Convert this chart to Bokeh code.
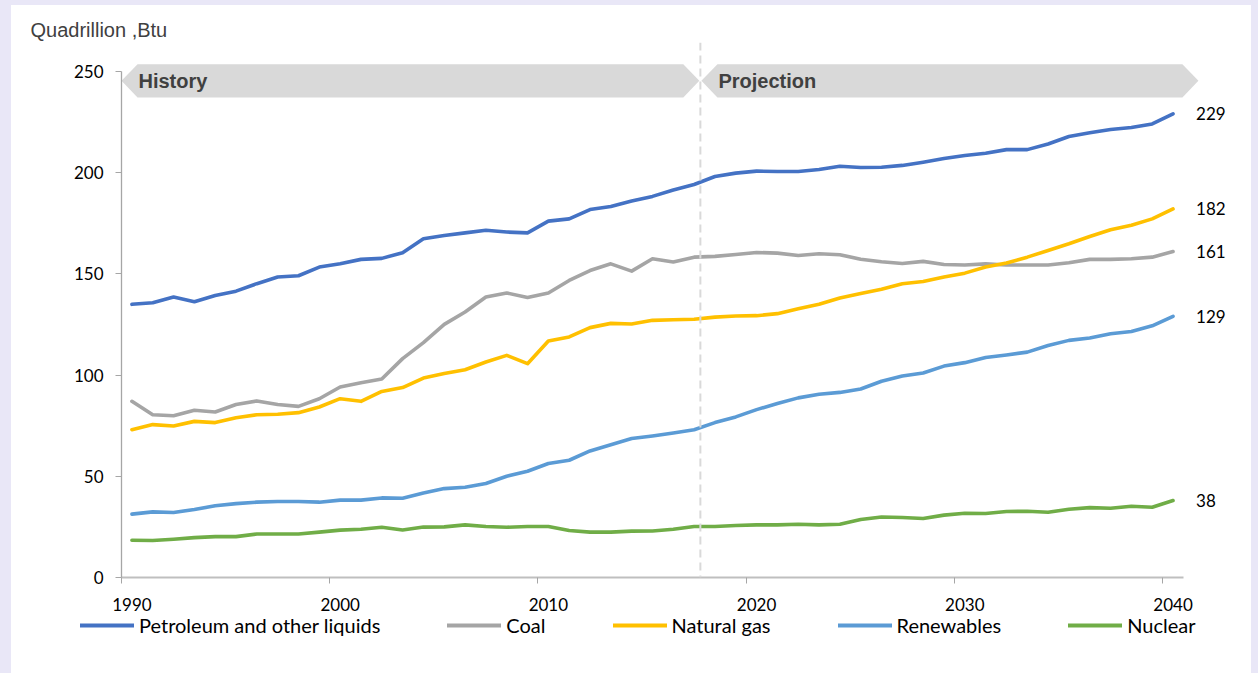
from bokeh.plotting import figure
from bokeh.models import Range1d, FixedTicker, Span, Legend, LegendItem
from bokeh.layouts import column
from bokeh.embed import file_html
from bokeh.resources import INLINE
from bokeh.core.properties import value

# ---------------- data ----------------
years = list(range(1990, 2041))
petroleum = [134.9, 135.7, 138.5, 136.2, 139.3, 141.4, 145.1, 148.4, 149.0, 153.3,
             154.9, 157.1, 157.6, 160.4, 167.3, 168.9, 170.2, 171.5, 170.6, 170.2,
             176.0, 177.1, 181.7, 183.2, 185.9, 188.2, 191.4, 194.1, 198.0, 199.7,
             200.7, 200.5, 200.5, 201.5, 203.1, 202.5, 202.6, 203.5, 205.1, 206.9,
             208.4, 209.5, 211.3, 211.3, 214.1, 217.8, 219.6, 221.2, 222.2, 224.0, 229.0]
coal = [87.0, 80.4, 79.9, 82.6, 81.7, 85.4, 87.2, 85.4, 84.5, 88.3,
        94.1, 96.2, 98.0, 108.1, 116.0, 125.0, 131.1, 138.5, 140.5, 138.3,
        140.5, 146.7, 151.6, 154.9, 151.3, 157.4, 155.8, 158.2, 158.6, 159.5,
        160.5, 160.2, 159.0, 159.9, 159.4, 157.2, 155.9, 155.1, 156.1, 154.6,
        154.3, 154.9, 154.3, 154.3, 154.3, 155.4, 157.1, 157.1, 157.4, 158.2, 161.0]
natural_gas = [73.0, 75.5, 74.8, 77.1, 76.5, 78.9, 80.4, 80.6, 81.4, 84.2,
               88.3, 87.0, 91.9, 93.8, 98.5, 100.7, 102.6, 106.4, 109.7, 105.6,
               116.8, 118.8, 123.4, 125.5, 125.2, 127.0, 127.3, 127.5, 128.6, 129.1,
               129.3, 130.3, 132.7, 134.9, 138.0, 140.3, 142.4, 145.1, 146.2, 148.4,
               150.3, 153.3, 155.3, 158.2, 161.5, 164.8, 168.4, 171.7, 174.0, 177.1, 182.0]
renewables = [31.3, 32.4, 32.1, 33.6, 35.4, 36.5, 37.2, 37.5, 37.5, 37.2,
              38.2, 38.2, 39.3, 39.1, 41.7, 43.9, 44.6, 46.4, 50.0, 52.5,
              56.3, 57.9, 62.5, 65.6, 68.6, 69.9, 71.4, 73.0, 76.5, 79.3,
              82.9, 85.9, 88.7, 90.5, 91.4, 93.1, 96.9, 99.5, 101.0, 104.4,
              106.1, 108.6, 109.9, 111.3, 114.6, 117.1, 118.3, 120.4, 121.5, 124.3, 129.0]
nuclear = [18.4, 18.3, 18.9, 19.7, 20.2, 20.2, 21.5, 21.5, 21.5, 22.4,
           23.4, 23.8, 24.8, 23.5, 24.9, 25.0, 26.0, 25.2, 24.8, 25.2,
           25.2, 23.2, 22.4, 22.4, 22.9, 23.0, 23.8, 25.2, 25.2, 25.7,
           26.0, 26.0, 26.3, 26.0, 26.3, 28.6, 29.9, 29.6, 29.1, 30.8,
           31.7, 31.6, 32.6, 32.7, 32.2, 33.7, 34.5, 34.2, 35.2, 34.7, 38.0]

series_names = ["Petroleum and other liquids", "Coal", "Natural gas", "Renewables", "Nuclear"]
series_values = [petroleum, coal, natural_gas, renewables, nuclear]
series_colors = ["#4472C4", "#A5A5A5", "#FFC000", "#5B9BD5", "#70AD47"]

x_ticks = [1990, 2000, 2010, 2020, 2030, 2040]
x_tick_labels = ["1990", "2000", "2010", "2020", "2030", "2040"]
y_ticks = [0, 50, 100, 150, 200, 250]
banner_labels = ["History", "Projection"]
unit_label = "Quadrillion ,Btu"
divider_year = 2017.3

# ---------------- layout constants ----------------
x_start, x_axis_end, x_view_end = 1989.5, 2040.5, 2043.0
y_view_top = 264.2
band_lo, band_hi = 237.1, 253.4
band_mid = (band_lo + band_hi) / 2
notch = 0.77
gap = 0.05

p = figure(width=1240, height=608, output_backend="svg", toolbar_location=None,
           x_range=Range1d(x_start, x_view_end), y_range=Range1d(0, y_view_top),
           min_border_left=110, min_border_right=16, min_border_top=37, min_border_bottom=36)
p.frame_align = False
p.background_fill_color = "white"
p.border_fill_color = "white"
p.outline_line_color = None
p.xgrid.visible = False
p.ygrid.visible = False

# title used as the unit label
p.title.text = unit_label
p.title.align = "left"
p.title.offset = -91
p.title.text_font = "Liberation Sans"
p.title.text_font_size = "20px"
p.title.text_font_style = "normal"
p.title.text_color = "#404040"
p.title.standoff = 3

# banners
hist_xs = [x_start, x_start + notch, divider_year - gap - notch, divider_year - gap,
           divider_year - gap - notch, x_start + notch]
proj_l = divider_year + gap
proj_r = x_axis_end - 0.05
proj_xs = [proj_l, proj_l + notch, proj_r, proj_r + notch, proj_r, proj_l + notch]
band_ys = [band_mid, band_hi, band_hi, band_mid, band_lo, band_lo]
p.patches([hist_xs, proj_xs], [band_ys, band_ys], fill_color="#D9D9D9", line_color=None)
p.text(x=[x_start, proj_l], y=[band_mid, band_mid], text=banner_labels, x_offset=17,
       text_baseline="middle", text_font=value("Liberation Sans"), text_font_style="bold",
       text_font_size="20px", text_color="#404040")

# divider
p.add_layout(Span(location=divider_year, dimension="height", line_color="#D9D9D9",
                  line_dash="8 5", line_width=2))

# lines
for name, vals, col in zip(series_names, series_values, series_colors):
    p.line(years, vals, line_color=col, line_width=3.6, line_join="round", line_cap="round")

# end labels
last_vals = [v[-1] for v in series_values]
p.text(x=[years[-1]] * len(last_vals), y=last_vals, text=[f"{v:.0f}" for v in last_vals],
       x_offset=23, text_baseline="middle", text_align="left", text_font=value("Lato"),
       text_font_size="17px", text_color="#000000")

# axes
xa = p.xaxis[0]
xa.ticker = FixedTicker(ticks=x_ticks, minor_ticks=[t - 0.5 for t in x_ticks])
xa.major_label_overrides = {t: l for t, l in zip(x_ticks, x_tick_labels)}
xa.bounds = (x_start, x_axis_end)
xa.axis_line_color = "#BFBFBF"
xa.axis_line_width = 2
xa.major_tick_out = 0
xa.major_tick_in = 0
xa.minor_tick_out = 6
xa.minor_tick_in = 0
xa.minor_tick_line_color = "#A6A6A6"
xa.minor_tick_line_width = 1
xa.major_label_standoff = 14
xa.major_label_text_font = "Lato"
xa.major_label_text_font_size = "17px"
xa.major_label_text_color = "#000000"

ya = p.yaxis[0]
ya.ticker = FixedTicker(ticks=y_ticks, minor_ticks=[])
ya.bounds = (0, 250)
ya.axis_line_color = "#A6A6A6"
ya.axis_line_width = 1.3
ya.major_tick_out = 6
ya.major_tick_in = 0
ya.major_tick_line_color = "#A6A6A6"
ya.minor_tick_out = 0
ya.minor_tick_in = 0
ya.major_label_standoff = 12
ya.major_label_text_font = "Lato"
ya.major_label_text_font_size = "17px"
ya.major_label_text_color = "#000000"

# legend in its own strip below the chart
pl = figure(width=1240, height=60, output_backend="svg", toolbar_location=None,
            x_range=Range1d(0, 1), y_range=Range1d(0, 1),
            x_axis_location=None, y_axis_location=None,
            min_border_left=0, min_border_right=0, min_border_top=0, min_border_bottom=0)
pl.frame_align = False
pl.background_fill_color = "white"
pl.border_fill_color = "white"
pl.outline_line_color = None
pl.xgrid.visible = False
pl.ygrid.visible = False
# legend swatches: each series' style, drawn off-view so only the legend shows them
leg_renderers = [pl.line(x=[-2, -1], y=[-2, -2], line_color=c, line_width=4, line_cap="round")
                 for c in series_colors]
legend = Legend(items=[LegendItem(label=n, renderers=[r]) for n, r in zip(series_names, leg_renderers)],
                orientation="horizontal", location=(69, 36), spacing=67, glyph_width=54,
                glyph_height=20, label_standoff=5, label_text_font="Lato",
                label_text_font_size="20px", label_text_color="#000000",
                border_line_color=None, background_fill_alpha=0, padding=0, margin=0)
pl.add_layout(legend)

layout = column(p, pl, spacing=0,
                styles={"background": "linear-gradient(#ffffff, #ffffff) content-box, #E9E7F7",
                        "padding": "5px 7px 0px 11px"})
open("out.html", "w").write(file_html(layout, INLINE))
